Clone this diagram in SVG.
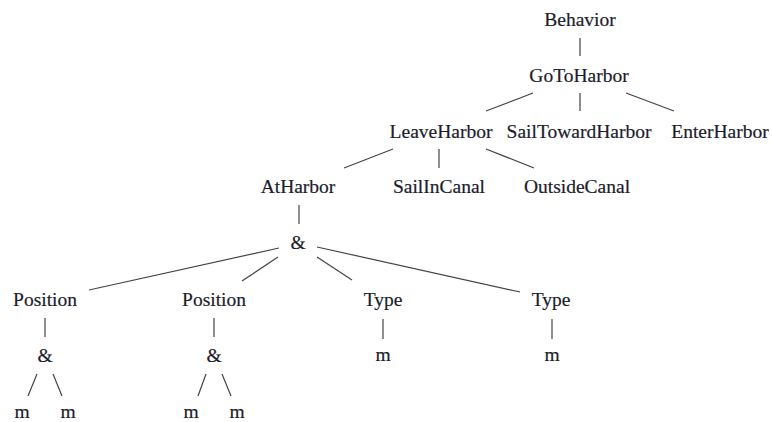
<svg xmlns="http://www.w3.org/2000/svg" width="772" height="422" viewBox="0 0 772 422">
<style>
text{font-family:"Liberation Serif","Times New Roman",serif;font-size:19.5px;fill:#1c1c2c;stroke:#1c1c2c;stroke-width:0.2;text-anchor:middle}
line{stroke:#444;stroke-width:1.2}
</style>
<rect width="772" height="422" fill="#fff"/>
<g id="connectors">
<line x1="580" y1="38" x2="580" y2="56"/>
<line x1="533" y1="93" x2="486" y2="111"/>
<line x1="580" y1="93" x2="580" y2="111"/>
<line x1="626" y1="93" x2="674" y2="111"/>
<line x1="393" y1="149" x2="344" y2="168"/>
<line x1="439" y1="149" x2="439" y2="168"/>
<line x1="486" y1="149" x2="534" y2="168"/>
<line x1="299" y1="205" x2="299" y2="224"/>
<line x1="279" y1="248" x2="89" y2="290"/>
<line x1="278" y1="257" x2="242" y2="281"/>
<line x1="317" y1="257" x2="352" y2="280"/>
<line x1="317" y1="247" x2="520" y2="292"/>
<line x1="45" y1="318" x2="45" y2="337"/>
<line x1="214" y1="318" x2="214" y2="337"/>
<line x1="383" y1="319" x2="383" y2="339"/>
<line x1="552" y1="319" x2="552" y2="339"/>
<line x1="37" y1="374" x2="28" y2="396"/>
<line x1="53" y1="374" x2="62" y2="396"/>
<line x1="206" y1="374" x2="198" y2="396"/>
<line x1="222" y1="374" x2="231" y2="396"/>
</g>
<g id="n-behavior"><text x="580" y="26">Behavior</text></g>
<g id="n-gotoharbor"><text x="579" y="82">GoToHarbor</text></g>
<g id="n-leaveharbor"><text x="441" y="138">LeaveHarbor</text></g>
<g id="n-sailtowardharbor"><text x="579" y="138">SailTowardHarbor</text></g>
<g id="n-enterharbor"><text x="720" y="138">EnterHarbor</text></g>
<g id="n-atharbor"><text x="298" y="193">AtHarbor</text></g>
<g id="n-sailincanal"><text x="439" y="193">SailInCanal</text></g>
<g id="n-outsidecanal"><text x="577" y="193">OutsideCanal</text></g>
<g id="n-and"><text x="298" y="249">&amp;</text></g>
<g id="n-position1"><text x="45" y="306">Position</text></g>
<g id="n-position2"><text x="214" y="306">Position</text></g>
<g id="n-type1"><text x="383" y="306">Type</text></g>
<g id="n-type2"><text x="551" y="306">Type</text></g>
<g id="n-and1"><text x="45" y="362">&amp;</text></g>
<g id="n-and2"><text x="214" y="362">&amp;</text></g>
<g id="n-m-type1"><text x="383" y="361">m</text></g>
<g id="n-m-type2"><text x="552" y="361">m</text></g>
<g id="n-m1"><text x="22" y="418">m</text></g>
<g id="n-m2"><text x="68" y="418">m</text></g>
<g id="n-m3"><text x="191" y="418">m</text></g>
<g id="n-m4"><text x="237" y="418">m</text></g>
</svg>
